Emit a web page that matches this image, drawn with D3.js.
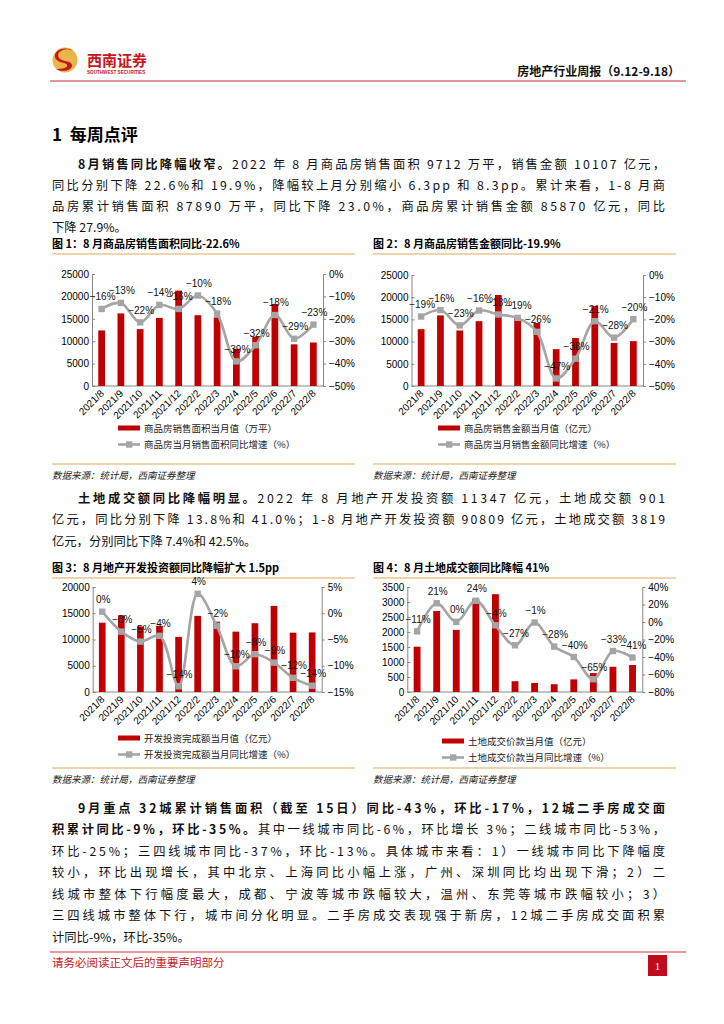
<!DOCTYPE html>
<html>
<head>
<meta charset="utf-8">
<script src="https://cdn.jsdelivr.net/npm/d3@7"></script>
<style>
  body { margin: 0; background: #fff; }
  svg text { font-family: "Liberation Sans", "Noto Sans CJK SC", sans-serif; }
</style>
</head>
<body>
<svg id="page" width="724" height="1024"></svg>
<script>
// ---- data ----
const months = ["2021/8", "2021/9", "2021/10", "2021/11", "2021/12", "2022/2",
                "2022/3", "2022/4", "2022/5", "2022/6", "2022/7", "2022/8"];

// 图1 商品房销售面积（万平）及同比（%）
const areaValues = [12400, 16200, 12700, 15200, 21300, 15800, 15300, 8300, 11000, 18300, 9300, 9712];
const areaYoy    = [-15.6, -12.9, -21.6, -13.8, -15.6, -9.6, -17.7, -39.0, -31.8, -18.3, -28.9, -22.6];

// 图2 商品房销售金额（亿元）及同比（%）
const amountValues = [12800, 15900, 12500, 14600, 20500, 15400, 14200, 8300, 10800, 18000, 9700, 10107];
const amountYoy    = [-18.7, -15.8, -22.7, -16.0, -17.8, -19.3, -25.6, -46.6, -37.7, -20.8, -28.2, -19.9];

// 图3 开发投资完成额（亿元）及同比（%）
const investValues = [13200, 14600, 12500, 12600, 10500, 14500, 13400, 11500, 13100, 16400, 11300, 11347];
const investYoy    = [0.3, -3.5, -5.4, -4.3, -13.9, 3.7, -2.4, -10.1, -7.8, -9.4, -12.3, -13.8];

// 图4 土地成交价款（亿元）及同比（%）
const landValues = [1510, 2700, 2070, 3110, 3260, 360, 300, 260, 420, 630, 840, 901];
const landYoy    = [-10.7, 21.4, 0.2, 24.3, -3.8, -26.6, -0.6, -28.1, -40.0, -65.4, -33.2, -40.6];

const BAR_RED = "#c00000";
const LINE_GREY = "#a5a5a5";
const AXIS_GREY = "#868686";
const RULE_ORANGE = "#e2a65e";
const CJK = '"Noto Sans CJK SC", sans-serif';

const svg = d3.select("#page");

// ---- page header ----
const logo = svg.append("g").attr("transform", "translate(65,60)");
logo.append("circle").attr("r", 12.5).attr("fill", "#eab54a");
logo.append("path")
    .attr("d", "M8,-9 C0,-14 -10,-8 -6,-2 C-3,2 6,0 7,5 C8,10 -2,13 -9,9 C-3,9 3,8 2,5 C1,2 -9,3 -10,-3 C-11,-11 2,-14 8,-9 Z")
    .attr("fill", "#c8161d");
svg.append("text").attr("x", 87).attr("y", 66)
    .style("font-family", CJK).style("font-size", "15px").style("font-weight", 700)
    .attr("fill", "#c8161d").text("西南证券");
svg.append("text").attr("x", 87).attr("y", 73.5)
    .style("font-size", "4.6px").style("font-weight", 700)
    .attr("fill", "#c8161d").text("SOUTHWEST SECURITIES");
svg.append("text").attr("x", 680).attr("y", 76).attr("text-anchor", "end")
    .style("font-family", CJK).style("font-size", "12px").style("font-weight", 700)
    .attr("fill", "#111").text("房地产行业周报（9.12-9.18）");
svg.append("line").attr("x1", 50).attr("x2", 686).attr("y1", 81).attr("y2", 81)
    .attr("stroke", "#d9737a").attr("stroke-width", 1.6);

// ---- section title ----
svg.append("text").attr("x", 52).attr("y", 141)
    .style("font-family", CJK).style("font-size", "17px").style("font-weight", 700)
    .attr("xml:space", "preserve")
    .text("1  每周点评");

// ---- body paragraphs ----
const TEXT_LEFT = 52, TEXT_RIGHT = 665, INDENT = 26;

function paragraph(lines, y0, lh) {
    lines.forEach((ln, i) => {
        const x = ln.indent ? TEXT_LEFT + INDENT : TEXT_LEFT;
        const t = svg.append("text").attr("x", x).attr("y", y0 + i * lh)
            .style("font-family", CJK).style("font-size", "12.3px").attr("fill", "#111");
        if (ln.b) t.append("tspan").style("font-weight", 700).text(ln.b);
        if (ln.t) t.append("tspan").text(ln.t);
        if (ln.full) t.attr("textLength", TEXT_RIGHT - x).attr("lengthAdjust", "spacing");
    });
}

paragraph([
    { indent: true, full: true, b: "8月销售同比降幅收窄。", t: "2022 年 8 月商品房销售面积 9712 万平，销售金额 10107 亿元，" },
    { full: true, t: "同比分别下降 22.6%和 19.9%，降幅较上月分别缩小 6.3pp 和 8.3pp。累计来看，1-8 月商" },
    { full: true, t: "品房累计销售面积 87890 万平，同比下降 23.0%，商品房累计销售金额 85870 亿元，同比" },
    { t: "下降 27.9%。" }
], 168.5, 21.3);

paragraph([
    { indent: true, full: true, b: "土地成交额同比降幅明显。", t: "2022 年 8 月地产开发投资额 11347 亿元，土地成交额 901" },
    { full: true, t: "亿元，同比分别下降 13.8%和 41.0%；1-8 月地产开发投资额 90809 亿元，土地成交额 3819" },
    { t: "亿元，分别同比下降 7.4%和 42.5%。" }
], 502.5, 21.6);

paragraph([
    { indent: true, full: true, b: "9月重点 32城累计销售面积（截至 15日）同比-43%，环比-17%，12城二手房成交面" },
    { full: true, b: "积累计同比-9%，环比-35%。", t: "其中一线城市同比-6%，环比增长 3%；二线城市同比-53%，" },
    { full: true, t: "环比-25%；三四线城市同比-37%，环比-13%。具体城市来看：1）一线城市同比下降幅度" },
    { full: true, t: "较小，环比出现增长，其中北京、上海同比小幅上涨，广州、深圳同比均出现下滑；2）二" },
    { full: true, t: "线城市整体下行幅度最大，成都、宁波等城市跌幅较大，温州、东莞等城市跌幅较小；3）" },
    { full: true, t: "三四线城市整体下行，城市间分化明显。二手房成交表现强于新房，12城二手房成交面积累" },
    { t: "计同比-9%，环比-35%。" }
], 812.5, 21.5);

// ---- chart frames: title, orange rules, source ----
function frame(x, titleY, ruleTop, ruleBottom, title) {
    svg.append("text").attr("x", x).attr("y", titleY)
        .style("font-family", CJK).style("font-size", "11px").style("font-weight", 700)
        .text(title);
    [ruleTop, ruleBottom].forEach(y => {
        svg.append("line").attr("x1", x).attr("x2", x + 303).attr("y1", y).attr("y2", y)
            .attr("stroke", RULE_ORANGE).attr("stroke-width", 1.2);
    });
    svg.append("text").attr("x", x).attr("y", ruleBottom + 15)
        .style("font-family", CJK).style("font-size", "9.5px").style("font-style", "italic")
        .attr("fill", "#222").text("数据来源：统计局，西南证券整理");
}

frame(52, 248, 254, 464, "图 1：8 月商品房销售面积同比-22.6%");
frame(373, 248, 254, 464, "图 2：8 月商品房销售金额同比-19.9%");
frame(52, 572, 578, 768, "图 3：8 月地产开发投资额同比降幅扩大 1.5pp");
frame(373, 572, 578, 768, "图 4：8 月土地成交额同比降幅 41%");

// ---- combo chart: bars on the left axis, smoothed yoy line on the right axis ----
const pct = v => {
    const r = Math.round(v);
    return (r < 0 ? "−" + Math.abs(r) : String(Math.abs(r))) + "%";
};

function comboChart(o) {
    const g = svg.append("g");

    const x = d3.scaleBand().domain(months).range([o.x0, o.x1])
        .paddingInner(0.65).paddingOuter(0.325);
    const cx = m => x(m) + x.bandwidth() / 2;
    const yL = d3.scaleLinear().domain([0, o.lMax]).range([o.yB, o.yT]);
    const yR = d3.scaleLinear().domain(o.rDomain).range([o.yB, o.yT]);

    const leftAxis = g.append("g").attr("transform", `translate(${o.x0},0)`)
        .call(d3.axisLeft(yL).tickValues(d3.range(0, o.lMax + 1, o.lStep))
            .tickSizeInner(-3).tickSizeOuter(0).tickPadding(3).tickFormat(d3.format("d")));
    const rightAxis = g.append("g").attr("transform", `translate(${o.x1},0)`)
        .call(d3.axisRight(yR).tickValues(d3.range(o.rDomain[0], o.rDomain[1] + 1, o.rStep))
            .tickSize(3).tickSizeOuter(0).tickPadding(3).tickFormat(pct));
    [leftAxis, rightAxis].forEach(a => {
        a.select(".domain").attr("stroke", AXIS_GREY);
        a.selectAll(".tick line").attr("stroke", AXIS_GREY);
        a.selectAll("text").style("font-size", "10px").attr("fill", "#000");
    });

    // category axis line at zero
    g.append("line").attr("x1", o.x0).attr("x2", o.x1)
        .attr("y1", yL(0)).attr("y2", yL(0)).attr("stroke", AXIS_GREY);

    g.selectAll("text.cat").data(months).enter().append("text")
        .attr("class", "cat")
        .attr("transform", d => `translate(${cx(d) + 3},${yL(0) + 8}) rotate(-45)`)
        .attr("text-anchor", "end")
        .style("font-size", "10px")
        .text(d => d);

    g.selectAll("rect.bar").data(o.bars).enter().append("rect")
        .attr("class", "bar")
        .attr("x", (d, i) => x(months[i]))
        .attr("width", x.bandwidth())
        .attr("y", d => yL(d))
        .attr("height", d => yL(0) - yL(d))
        .attr("fill", BAR_RED);

    const line = d3.line()
        .x((d, i) => cx(months[i]))
        .y(d => yR(d))
        .curve(d3.curveCatmullRom.alpha(0.5));
    g.append("path").datum(o.yoy).attr("d", line)
        .attr("fill", "none").attr("stroke", LINE_GREY).attr("stroke-width", 2.6);

    g.selectAll("rect.mk").data(o.yoy).enter().append("rect")
        .attr("class", "mk")
        .attr("x", (d, i) => cx(months[i]) - 3.2)
        .attr("y", d => yR(d) - 3.2)
        .attr("width", 6.4).attr("height", 6.4)
        .attr("fill", LINE_GREY);

    g.selectAll("text.lbl").data(o.yoy).enter().append("text")
        .attr("class", "lbl")
        .attr("x", (d, i) => cx(months[i]) + 1)
        .attr("y", d => yR(d) - 8.5)
        .attr("text-anchor", "middle")
        .style("font-size", "10px")
        .attr("fill", "#111")
        .text(pct);

    // legend
    const lg = g.append("g").attr("transform", `translate(${o.legX},${o.legY})`);
    lg.append("rect").attr("x", 0).attr("y", -2.5).attr("width", 22).attr("height", 5).attr("fill", BAR_RED);
    lg.append("text").attr("x", 26).attr("y", 3.5)
        .style("font-family", CJK).style("font-size", "9.5px").attr("fill", "#222").text(o.legBar);
    lg.append("line").attr("x1", 0).attr("x2", 22).attr("y1", 16.5).attr("y2", 16.5)
        .attr("stroke", LINE_GREY).attr("stroke-width", 2.6);
    lg.append("rect").attr("x", 8).attr("y", 13.3).attr("width", 6.4).attr("height", 6.4).attr("fill", LINE_GREY);
    lg.append("text").attr("x", 26).attr("y", 20)
        .style("font-family", CJK).style("font-size", "9.5px").attr("fill", "#222").text(o.legLine);
}

comboChart({
    x0: 92, x1: 323, yT: 274, yB: 386,
    lMax: 25000, lStep: 5000, rDomain: [-50, 0], rStep: 10,
    bars: areaValues, yoy: areaYoy,
    legX: 118, legY: 428,
    legBar: "商品房销售面积当月值（万平）", legLine: "商品房当月销售面积同比增速（%）"
});

comboChart({
    x0: 411.5, x1: 643, yT: 275, yB: 386,
    lMax: 25000, lStep: 5000, rDomain: [-50, 0], rStep: 10,
    bars: amountValues, yoy: amountYoy,
    legX: 438, legY: 428,
    legBar: "商品房销售金额当月值（亿元）", legLine: "商品房当月销售金额同比增速（%）"
});

comboChart({
    x0: 92.7, x1: 321.7, yT: 587, yB: 692,
    lMax: 20000, lStep: 5000, rDomain: [-15, 5], rStep: 5,
    bars: investValues, yoy: investYoy,
    legX: 118, legY: 738,
    legBar: "开发投资完成额当月值（亿元）", legLine: "开发投资完成额当月同比增速（%）"
});

comboChart({
    x0: 407.3, x1: 642.3, yT: 587, yB: 692,
    lMax: 3500, lStep: 500, rDomain: [-80, 40], rStep: 20,
    bars: landValues, yoy: landYoy,
    legX: 442, legY: 741,
    legBar: "土地成交价款当月值（亿元）", legLine: "土地成交价款当月同比增速（%）"
});

// ---- footer ----
svg.append("line").attr("x1", 50).attr("x2", 686).attr("y1", 952).attr("y2", 952)
    .attr("stroke", "#d0343a").attr("stroke-width", 1.2);
svg.append("text").attr("x", 52).attr("y", 967)
    .style("font-family", CJK).style("font-size", "11.5px").attr("fill", "#c8161d")
    .text("请务必阅读正文后的重要声明部分");
svg.append("rect").attr("x", 648).attr("y", 955).attr("width", 19).attr("height", 21).attr("fill", "#c00c1c");
svg.append("text").attr("x", 657.5).attr("y", 969.5).attr("text-anchor", "middle")
    .style("font-family", '"Liberation Serif", serif').style("font-size", "11px").attr("fill", "#fff")
    .text("1");
</script>
</body>
</html>
